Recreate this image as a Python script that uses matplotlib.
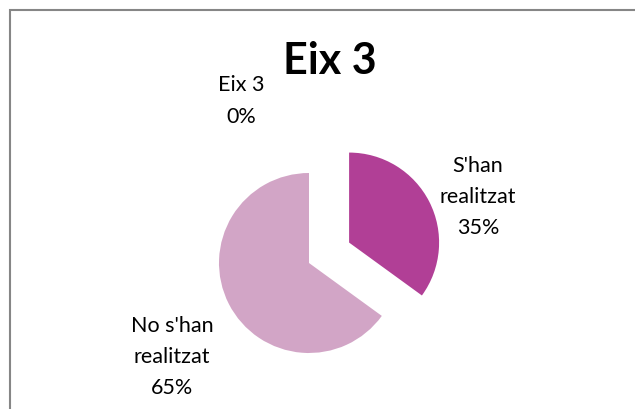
import matplotlib.pyplot as plt
from matplotlib.patches import Rectangle

# dades del gràfic
categories = ["Eix 3", "S'han realitzat", "No s'han realitzat"]
values = [0, 35, 65]
label_text = ["Eix 3\n0%", "S'han\nrealitzat\n35%", "No s'han\nrealitzat\n65%"]
colors = ['#7E3A78', '#B13F96', '#D2A5C6']

W, H = 635, 410
CX, CY, R = 309, 264, 90  # centre i radi del pastís (px)


def px(x, y):
    """píxels (origen a dalt a l'esquerra) -> unitats del pastís"""
    return (x - CX) / R, (CY - y) / R


fig = plt.figure(figsize=(W / 100, H / 100), dpi=100)
ax = fig.add_axes([0, 0, 1, 1])

ax.pie(values, colors=colors, startangle=90, counterclock=False,
       explode=[0, 0.5, 0], radius=1, wedgeprops=dict(linewidth=0))

# els límits després de pie(), que els reescriu
ax.set_xlim(px(0, 0)[0], px(W, 0)[0])
ax.set_ylim(px(0, H)[1], px(0, 0)[1])
ax.axis('off')

# etiquetes de dades
label_pos = [(241, 101), (478, 197), (172, 357)]
for txt, (x, y) in zip(label_text, label_pos):
    ax.text(*px(x, y), txt, ha='center', va='center', fontsize=15.5,
            family='Lato', linespacing=1.7, color='#000000')

ax.text(*px(330, 61), 'Eix 3', ha='center', va='center', fontsize=31,
        family='Lato', fontweight='bold', color='#000000')

# vora de l'àrea del gràfic
fig.patches.append(Rectangle((9.5 / W, -0.1), 2, 1.1 - 10.5 / H,
                             transform=fig.transFigure, fill=False,
                             edgecolor='#868686', linewidth=1.5))

fig.savefig('out.png', dpi=100)
